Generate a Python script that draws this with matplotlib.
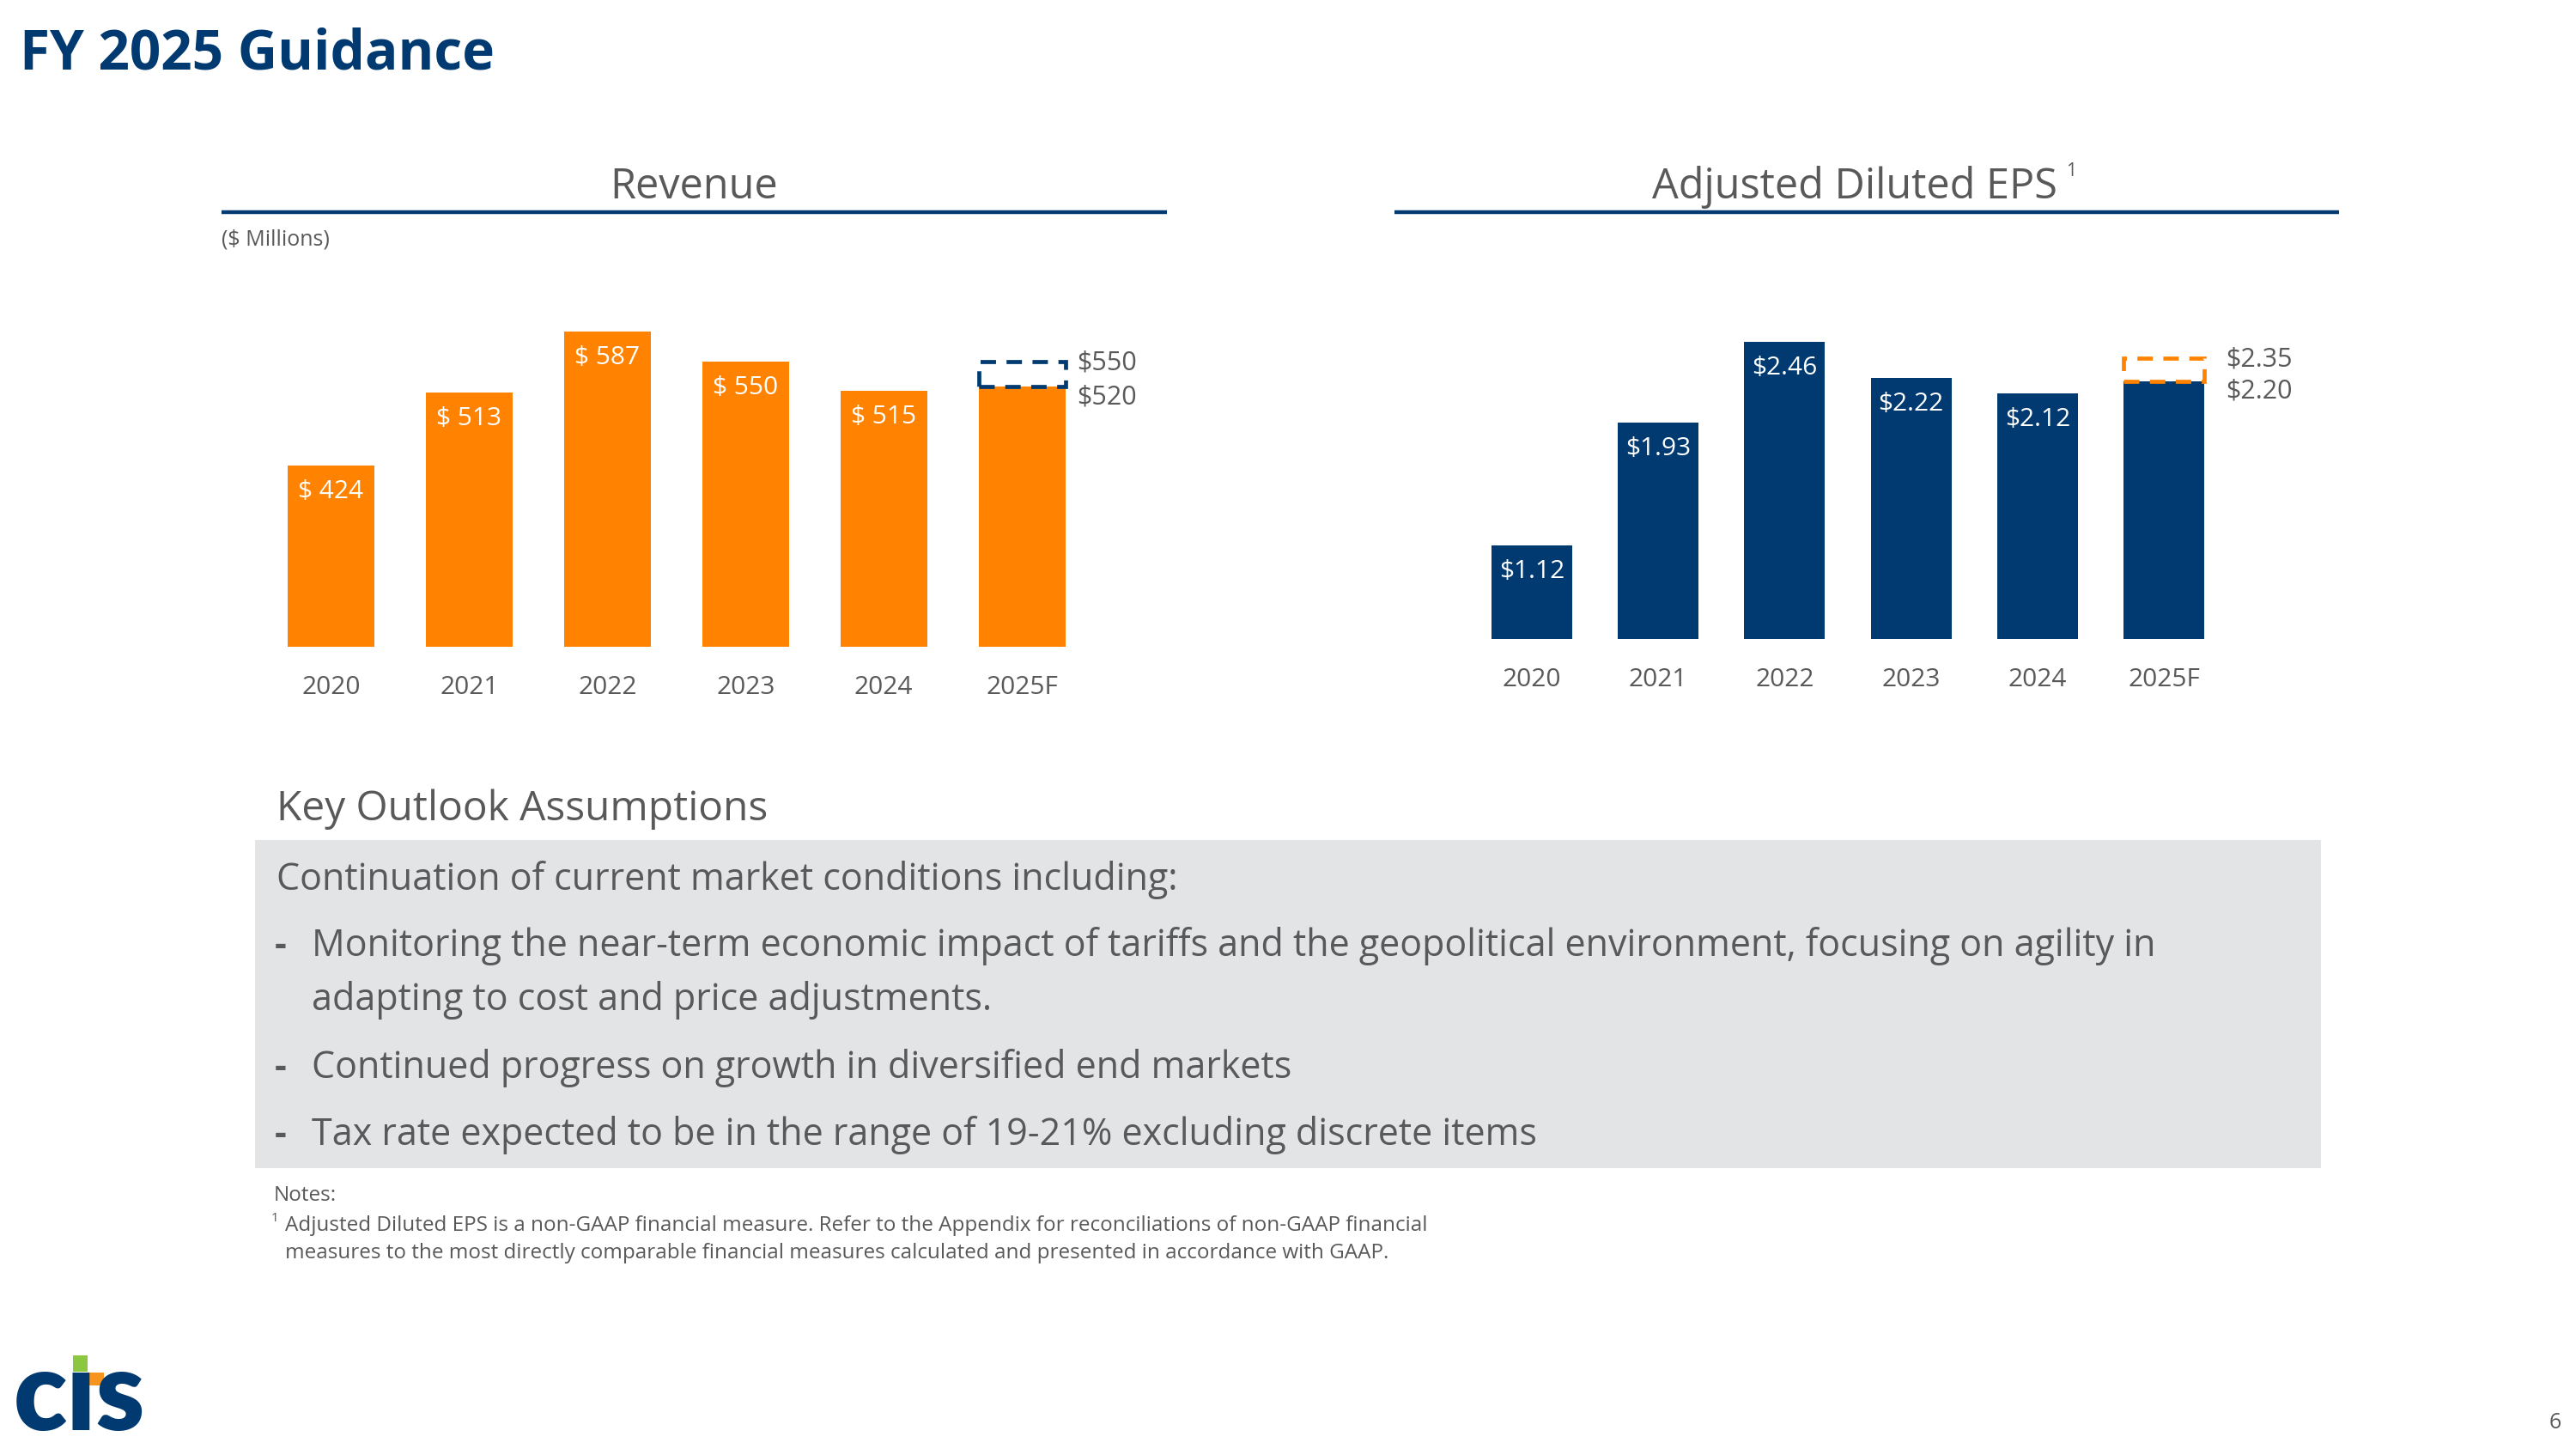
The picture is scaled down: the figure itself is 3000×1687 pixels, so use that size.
import matplotlib
matplotlib.use('Agg')
import matplotlib.pyplot as plt
from matplotlib.patches import Rectangle

plt.rcParams['font.family'] = ['Open Sans', 'DejaVu Sans']

W, H = 3000, 1687
NAVY = '#003A70'
ORANGE = '#FF8200'
GRAY = '#595959'

# data
years = ['2020', '2021', '2022', '2023', '2024', '2025F']
revenue = [424, 513, 587, 550, 515, 520]
revenue_labels = ['$ 424', '$ 513', '$ 587', '$ 550', '$ 515', '']
revenue_range = [520, 550]
eps = [1.12, 1.93, 2.46, 2.22, 2.12, 2.20]
eps_labels = ['$1.12', '$1.93', '$2.46', '$2.22', '$2.12', '']
eps_range = [2.20, 2.35]

intro = 'Continuation of current market conditions including:'
bullets = [
    ['Monitoring the near-term economic impact of tariffs and the geopolitical environment, focusing on agility in',
     'adapting to cost and price adjustments.'],
    ['Continued progress on growth in diversified end markets'],
    ['Tax rate expected to be in the range of 19-21% excluding discrete items'],
]
note_lines = [
    'Adjusted Diluted EPS is a non-GAAP financial measure. Refer to the Appendix for reconciliations of non-GAAP financial',
    'measures to the most directly comparable financial measures calculated and presented in accordance with GAAP.',
]

fig = plt.figure(figsize=(W / 100, H / 100), dpi=100)

# overlay in pixel coords (y down) for slide text / decorations
bg = fig.add_axes([0, 0, 1, 1])
bg.set_xlim(0, W)
bg.set_ylim(H, 0)
bg.axis('off')


def px_axes(left, top, right, bottom):
    return fig.add_axes([left / W, 1 - bottom / H, (right - left) / W, (bottom - top) / H])


def fmt(v):
    return '%d' % v if v >= 10 else '%.2f' % v


def bar_chart(ax, values, labels, color, rng, box_color, xlim, ylim, width, dx):
    x = range(len(values))
    ax.bar(x, values, width=width, color=color, zorder=2)
    for i, (v, lab) in enumerate(zip(values, labels)):
        if lab:
            ax.annotate(lab, (i, v), xytext=(0, -27.5), textcoords='offset points',
                        ha='center', va='baseline', color='white', fontsize=21.5)
    last = len(values) - 1
    ax.add_patch(Rectangle((last - width / 2, rng[0]), width, rng[1] - rng[0], fill=False,
                           edgecolor=box_color, lw=3.4, linestyle=(0, (3.8, 2.6)), zorder=3,
                           clip_on=False))
    ax.annotate('$%s' % fmt(rng[1]), (last + width / 2, rng[1]), xytext=(dx, -7),
                textcoords='offset points', va='baseline', color=GRAY, fontsize=22)
    ax.annotate('$%s' % fmt(rng[0]), (last + width / 2, rng[0]), xytext=(dx, -14.5),
                textcoords='offset points', va='baseline', color=GRAY, fontsize=22)
    ax.set_xlim(*xlim)
    ax.set_ylim(*ylim)
    ax.set_xticks(list(x))
    ax.set_xticklabels(years)
    ax.tick_params(axis='x', length=0, pad=24, labelsize=21.5, labelcolor=GRAY)
    ax.set_yticks([])
    for s in ax.spines.values():
        s.set_visible(False)
    ax.patch.set_alpha(0)


ax1 = px_axes(258, 247, 1359, 753)
bar_chart(ax1, revenue, revenue_labels, ORANGE, revenue_range, NAVY,
          (-0.792, 6.05), (204, 731.6), 0.628, 10)

ax2 = px_axes(1624, 247, 2724, 744)
bar_chart(ax2, eps, eps_labels, NAVY, eps_range, ORANGE,
          (-1.087, 6.386), (0.504, 3.312), 0.639, 18)

# slide title
bg.text(23, 80, 'FY 2025 Guidance', color=NAVY, fontsize=46, fontweight='bold', va='baseline')

# chart headers
bg.plot([258, 1359], [247, 247], color=NAVY, lw=3.2, solid_capstyle='butt')
bg.plot([1624, 2724], [247, 247], color=NAVY, lw=3.2, solid_capstyle='butt')
bg.text(808, 231, 'Revenue', color=GRAY, fontsize=35, ha='center', va='baseline')
t = bg.text(2160, 231, 'Adjusted Diluted EPS', color=GRAY, fontsize=35, ha='center', va='baseline')
bg.annotate('1', xy=(1, 1), xycoords=t, xytext=(7, 3), textcoords='offset points',
            va='top', color=GRAY, fontsize=15)
bg.text(258, 285, '($ Millions)', color=GRAY, fontsize=18, va='baseline')

# outlook block
bg.text(322, 955, 'Key Outlook Assumptions', color=GRAY, fontsize=34.5, va='baseline')
bg.add_patch(Rectangle((297, 978), 2703 - 297, 382, color='#E3E4E6', lw=0, zorder=0))
bg.text(322, 1036, intro, color=GRAY, fontsize=31, va='baseline')
ys = [[1113, 1176], [1255], [1333]]
for lines, yy in zip(bullets, ys):
    bg.text(320, yy[0], '-', color=GRAY, fontsize=31, fontweight='bold', va='baseline')
    for line, y in zip(lines, yy):
        bg.text(363, y, line, color=GRAY, fontsize=31, va='baseline')

# notes
bg.text(319, 1398, 'Notes:', color=GRAY, fontsize=17.5, va='baseline')
bg.text(316, 1422, '1', color=GRAY, fontsize=11, va='baseline')
bg.text(332, 1433, note_lines[0], color=GRAY, fontsize=17.5, va='baseline')
bg.text(332, 1465, note_lines[1], color=GRAY, fontsize=17.5, va='baseline')

# page number
bg.text(2983, 1663, '6', color=GRAY, fontsize=18, ha='right', va='baseline')

# logo
bg.text(16, 1665, 'c\u0131s', color=NAVY, fontsize=92, fontweight='heavy',
        family=['Lato', 'DejaVu Sans'], va='baseline')
bg.add_patch(Rectangle((85, 1578), 17, 19, color='#8DC63F', lw=0))
bg.add_patch(Rectangle((102, 1598), 19, 15, color='#F7941D', lw=0))

fig.savefig('out.png', dpi=100)
